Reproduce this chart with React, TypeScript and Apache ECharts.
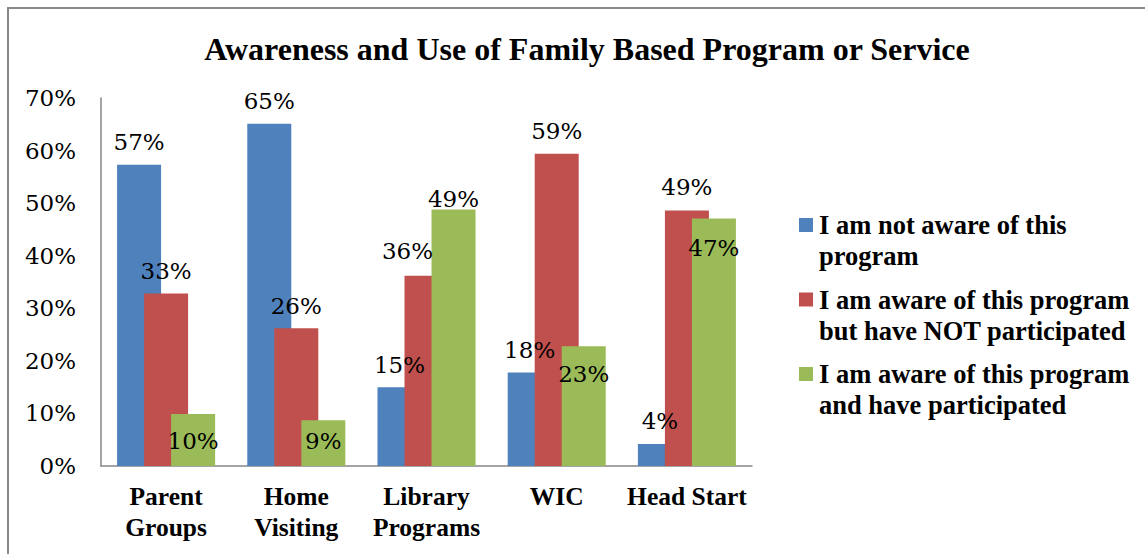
import React, { useEffect, useRef } from "react";
import * as echarts from "echarts";

const titleText = "Awareness and Use of Family Based Program or Service";
const categories = ["Parent\nGroups", "Home\nVisiting", "Library\nPrograms", "WIC", "Head Start"];
const seriesNames = [
  "I am not aware of this\nprogram",
  "I am aware of this program\nbut have NOT participated",
  "I am aware of this program\nand have participated",
];
const notAware = [57.3, 65.1, 15.0, 17.8, 4.2];
const awareNotParticipated = [32.8, 26.2, 36.2, 59.4, 48.6];
const awareParticipated = [9.9, 8.7, 48.8, 22.8, 47.1];
const yMin = 0;
const yMax = 70;
const yStep = 10;

const colors = ["#4F81BD", "#C0504D", "#9BBB59"];

// label placement per series / per category: [position, distance, dx]
const labelPlacement: [string, number, number][][] = [
  [["top", 11, 0], ["top", 11, 0], ["top", 11, 0], ["top", 11, 0], ["top", 11, 0]],
  [["top", 11, 0], ["top", 11, 0], ["top", 13, -19], ["top", 11, 0], ["top", 12, 0]],
  [["insideTop", 16, 0], ["insideTop", 9, 0], ["top", -1, 0], ["insideTop", 16, 0], ["insideTop", 18, 0]],
];

const labelFont = "DejaVu Serif";
const boldFont = "Liberation Serif";

export default function App() {
  const ref = useRef<HTMLDivElement>(null);
  useEffect(() => {
    if (!ref.current) return;
    const chart = echarts.init(ref.current, undefined, { renderer: "svg" });
    const values = [notAware, awareNotParticipated, awareParticipated];
    const series = values.map((vals, si) => ({
      name: seriesNames[si],
      type: "bar",
      barWidth: 44,
      barGap: "-38.6%",
      itemStyle: { color: colors[si] },
      data: vals.map((v, ci) => {
        const [pos, dist, dx] = labelPlacement[si][ci];
        return {
          value: v,
          label: {
            show: true,
            position: pos,
            distance: dist,
            offset: [dx, 0],
            formatter: (p: any) => Math.round(p.value) + "%",
            fontFamily: labelFont,
            fontSize: 23,
            color: "#000",
          },
        };
      }),
    }));

    const legendGraphics: any[] = [];
    seriesNames.forEach((name, i) => {
      const top = 218 + i * 74.5;
      legendGraphics.push({
        type: "rect",
        shape: { x: 799, y: top, width: 14, height: 14 },
        style: { fill: colors[i] },
      });
      legendGraphics.push({
        type: "text",
        x: 819,
        y: top + 7 - 15.5,
        style: {
          text: name,
          fontFamily: boldFont,
          fontWeight: "bold",
          fontSize: 26.5,
          lineHeight: 31,
          fill: "#000",
          verticalAlign: "top",
          align: "left",
        },
      });
    });

    chart.setOption({
      animation: false,
      backgroundColor: "#fff",
      title: {
        text: titleText,
        left: 582,
        textAlign: "center",
        top: 28,
        textStyle: {
          fontFamily: boldFont,
          fontWeight: "bold",
          fontSize: 32,
          color: "#000",
        },
      },
      grid: { left: 101, right: 393, top: 98, bottom: 88, containLabel: false },
      xAxis: {
        type: "category",
        data: categories,
        axisLine: { lineStyle: { color: "#868686", width: 1.5 } },
        axisTick: { show: false },
        axisLabel: {
          interval: 0,
          margin: 15,
          fontFamily: boldFont,
          fontWeight: "bold",
          fontSize: 25.5,
          lineHeight: 31,
          color: "#000",
        },
      },
      yAxis: {
        type: "value",
        min: yMin,
        max: yMax,
        interval: yStep,
        axisLine: { show: true, lineStyle: { color: "#868686", width: 1.5 } },
        axisTick: { show: false },
        splitLine: { show: false },
        axisLabel: {
          formatter: "{value}%",
          margin: 25,
          fontFamily: labelFont,
          fontSize: 23,
          color: "#000",
        },
      },
      series,
      graphic: [
        {
          type: "rect",
          shape: { x: 8, y: 8, width: 1160, height: 600 },
          style: { fill: "none", stroke: "#888", lineWidth: 2 },
          silent: true,
        },
        ...legendGraphics,
      ],
    });
    return () => chart.dispose();
  }, []);
  return (
    <div
      ref={ref}
      style={{ position: "absolute", left: 0, top: 0, width: 1145, height: 554 }}
    />
  );
}
